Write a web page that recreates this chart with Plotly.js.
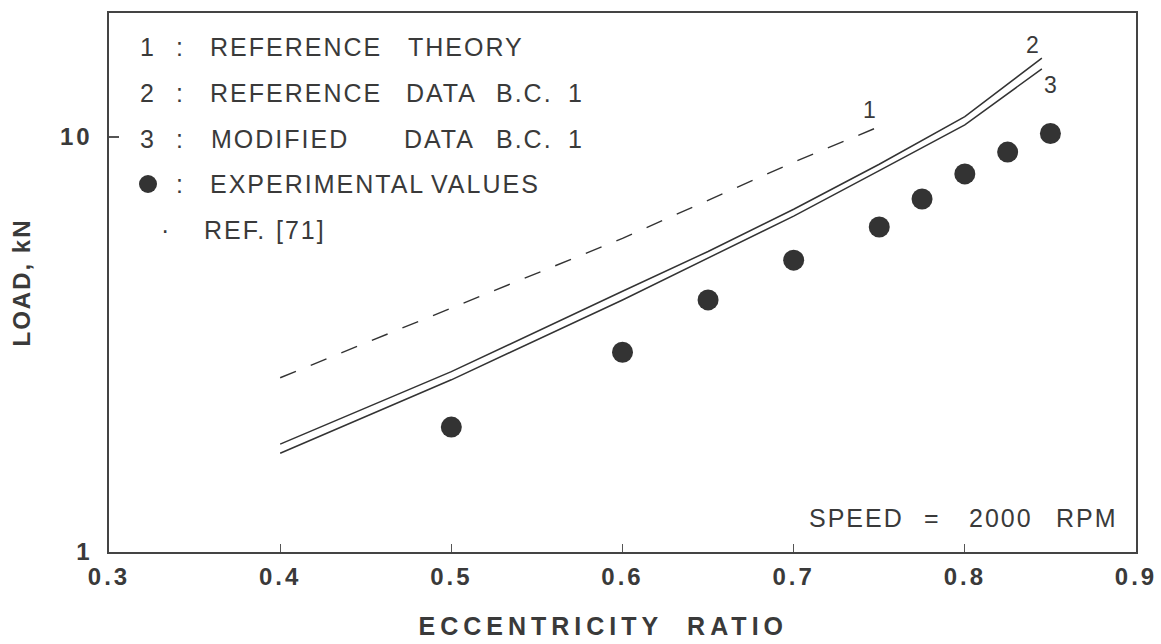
<!DOCTYPE html>
<html>
<head>
<meta charset="utf-8">
<script src="https://cdn.plot.ly/plotly-3.0.1.min.js"></script>
<style>
  html, body { margin: 0; padding: 0; background: #fff; }
  #chart { width: 1161px; height: 644px; }
  .xtick text, .ytick text { letter-spacing: 3px; }
  .ytitle { letter-spacing: 2px; }
  .annotation-text { letter-spacing: 2px; }
</style>
</head>
<body>
<div id="chart"></div>
<script>
// ---- data ----
const eccCurves = [0.4, 0.5, 0.6, 0.65, 0.7, 0.75, 0.8, 0.845];
const refDataBC1 = [1.82, 2.72, 4.25, 5.3, 6.7, 8.6, 11.2, 15.5];      // curve 2
const modDataBC1 = [1.73, 2.6, 4.05, 5.1, 6.45, 8.3, 10.7, 14.6];      // curve 3
const eccTheory = [0.4, 0.5, 0.6, 0.7, 0.75];
const refTheory = [2.63, 3.88, 5.7, 8.7, 10.6];                       // curve 1
const eccExp = [0.5, 0.6, 0.65, 0.7, 0.75, 0.775, 0.8, 0.825, 0.85];
const expValues = [2.0, 3.03, 4.05, 5.05, 6.07, 7.09, 8.15, 9.2, 10.2];
const xTickVals = [0.3, 0.4, 0.5, 0.6, 0.7, 0.8, 0.9];
const xTickText = ['0.3', '0.4', '0.5', '0.6', '0.7', '0.8', '0.9'];
const yTickVals = [1, 10];
const yTickText = ['1', '10'];
const xTitle = 'ECCENTRICITY\u00a0\u00a0RATIO';
const yTitle = 'LOAD, kN';

// ---- layout helpers (pixel -> paper) ----
const W = 1161, H = 644;
const M = {l: 109, r: 25, t: 13, b: 92};
const PW = W - M.l - M.r, PH = H - M.t - M.b;
const px = x => (x - M.l) / PW;
const py = y => (H - M.b - y) / PH;

const ink = '#333333';
const textInk = '#3a3a3a';
const FONT = 'Liberation Sans, Arial, Helvetica, sans-serif';

const traces = [
  {x: eccTheory, y: refTheory, mode: 'lines', name: 'REFERENCE THEORY',
   line: {color: ink, width: 1.4, dash: '17px,16px'}},
  {x: eccCurves, y: refDataBC1, mode: 'lines', name: 'REFERENCE DATA B.C. 1',
   line: {color: ink, width: 1.5}},
  {x: eccCurves, y: modDataBC1, mode: 'lines', name: 'MODIFIED DATA B.C. 1',
   line: {color: ink, width: 1.5}},
  {x: eccExp, y: expValues, mode: 'markers', name: 'EXPERIMENTAL VALUES',
   marker: {color: ink, size: 21, line: {width: 0}}}
];

function ann(text, x, y, opts) {
  return Object.assign({
    text: text, xref: 'paper', yref: 'paper', x: px(x), y: py(y),
    xanchor: 'left', yanchor: 'middle', showarrow: false,
    font: {family: FONT, size: 25, color: textInk}
  }, opts || {});
}

const rows = [47, 93, 139, 184, 230];
const annotations = [
  // legend numbers / colons
  ann('1', 148, rows[0], {xanchor: 'center'}),
  ann('2', 148, rows[1], {xanchor: 'center'}),
  ann('3', 148, rows[2], {xanchor: 'center'}),
  ann(':', 180, rows[0], {xanchor: 'center'}),
  ann(':', 180, rows[1], {xanchor: 'center'}),
  ann(':', 180, rows[2], {xanchor: 'center'}),
  ann(':', 180, rows[3], {xanchor: 'center'}),
  ann('·', 166, rows[4], {xanchor: 'center'}),
  // legend texts
  ann('REFERENCE', 208, rows[0]), ann('THEORY', 406, rows[0]),
  ann('REFERENCE', 208, rows[1]), ann('DATA', 404, rows[1]), ann('B.C.', 494, rows[1]), ann('1', 566, rows[1]),
  ann('MODIFIED', 209, rows[2]), ann('DATA', 402, rows[2]), ann('B.C.', 494, rows[2]), ann('1', 566, rows[2]),
  ann('EXPERIMENTAL', 208, rows[3]), ann('VALUES', 429, rows[3]),
  ann('REF.', 202, rows[4]), ann('[71]', 274, rows[4]),
  // curve labels
  ann('1', 870, 110, {xanchor: 'center', font: {family: FONT, size: 23, color: textInk}}),
  ann('2', 1033, 45, {xanchor: 'center', font: {family: FONT, size: 23, color: textInk}}),
  ann('3', 1051, 85, {xanchor: 'center', font: {family: FONT, size: 23, color: textInk}}),
  // speed note
  ann('SPEED', 807, 518), ann('=', 922, 518), ann('2000', 967, 518), ann('RPM', 1054, 518),
  // x axis title
  ann(xTitle, 603, 626, {xanchor: 'center', yanchor: 'middle',
      font: {family: FONT, size: 25, color: textInk, weight: 'bold'}})
];

const shapes = [
  {type: 'circle', xref: 'paper', yref: 'paper', xsizemode: 'pixel', ysizemode: 'pixel',
   xanchor: px(148), yanchor: py(184), x0: -9, x1: 9, y0: -9, y1: 9,
   fillcolor: ink, line: {width: 0}}
];

const layout = {
  width: W, height: H,
  margin: M,
  paper_bgcolor: '#ffffff', plot_bgcolor: '#ffffff',
  showlegend: false,
  font: {family: FONT, color: textInk},
  xaxis: {
    range: [0.3, 0.9], tickvals: xTickVals, ticktext: xTickText,
    ticks: 'inside', ticklen: 8, tickwidth: 1.2, tickcolor: '#555',
    showgrid: false, zeroline: false,
    showline: true, mirror: true, linecolor: '#444', linewidth: 1.6,
    tickfont: {family: FONT, size: 24, color: textInk, weight: 'bold'},
    ticklabelstandoff: 3
  },
  yaxis: {
    type: 'log', range: [0, 1.299], tickvals: yTickVals, ticktext: yTickText,
    ticks: 'inside', ticklen: 10, tickwidth: 1.2, tickcolor: '#555',
    showgrid: false, zeroline: false,
    showline: true, mirror: true, linecolor: '#444', linewidth: 1.6,
    tickfont: {family: FONT, size: 24, color: textInk, weight: 'bold'},
    ticklabelstandoff: 10,
    title: {text: yTitle, standoff: 22,
            font: {family: FONT, size: 24, color: textInk, weight: 'bold'}}
  },
  annotations: annotations,
  shapes: shapes
};

Plotly.newPlot('chart', traces, layout, {displayModeBar: false, staticPlot: true}).then(gd => {
  // wider letter spacing for the x-axis title annotation (last annotation)
  const nodes = gd.querySelectorAll('.annotation');
  const last = nodes[nodes.length - 1];
  if (last) {
    const t = last.querySelector('.annotation-text');
    if (t) t.style.letterSpacing = '5px';
  }
});
</script>
</body>
</html>
